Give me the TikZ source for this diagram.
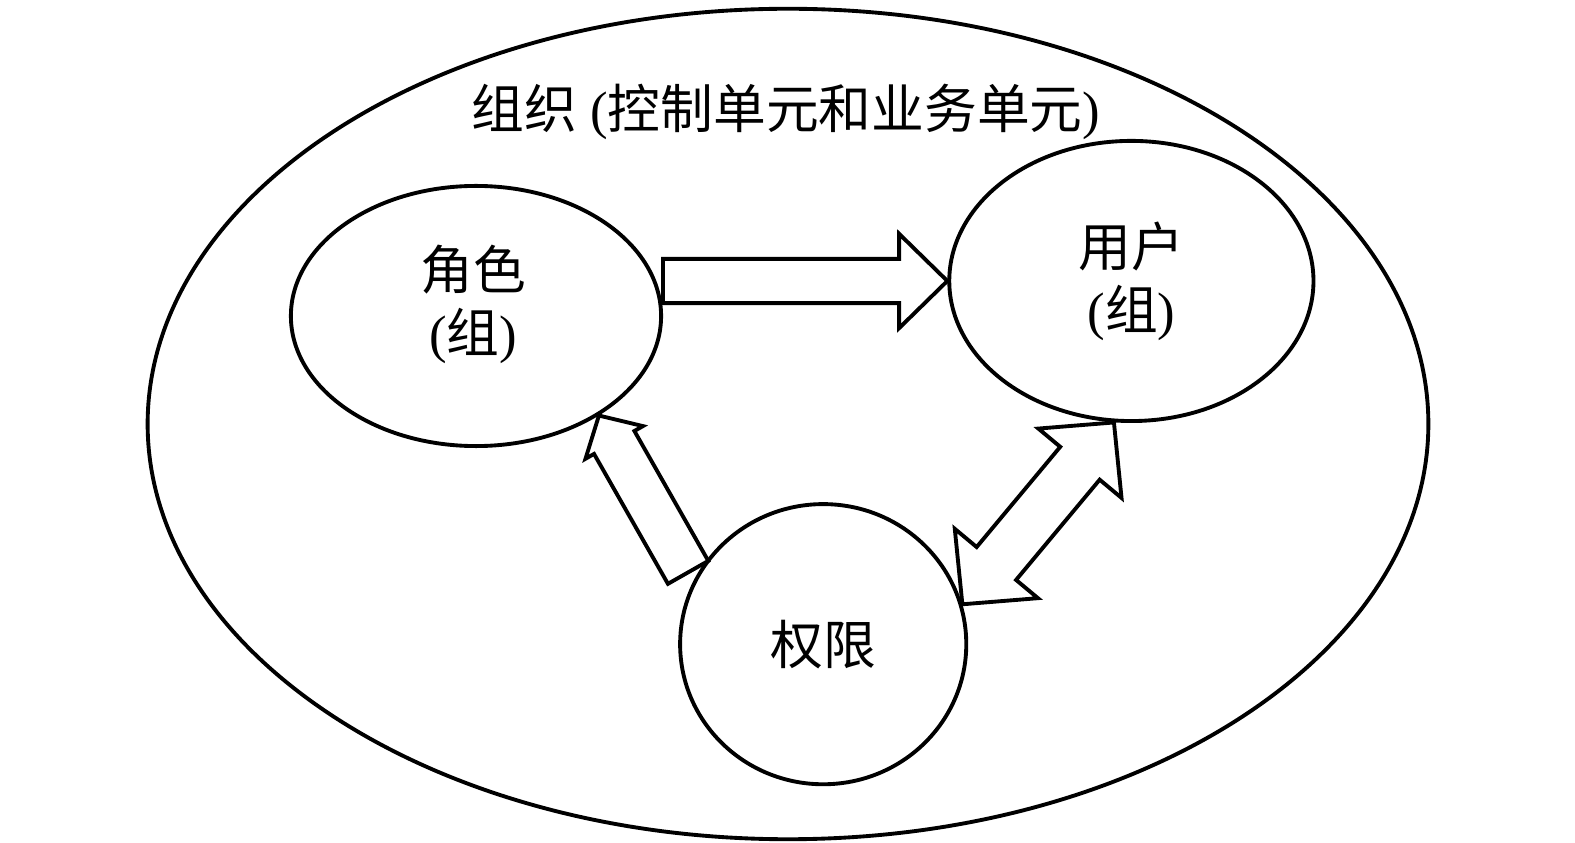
\documentclass[tikz,border=0pt]{standalone}
\usepackage{fontspec}
\setmainfont{Liberation Serif}
\newfontfamily\cjk{Noto Sans CJK SC}
\usetikzlibrary{shapes.geometric,positioning,calc}

% hollow block arrow: tail, tip, shaft half width, head half width, head length
\newcommand\fatarrow[5]{%
  \draw[fat] let \p1=($(#2)-(#1)$), \n1={atan2(\y1,\x1)}, \n2={veclen(\x1,\y1)} in
    [shift={(#1)},rotate=\n1] (0pt,#3) -- ({\n2-#5},#3) -- ({\n2-#5},#4) -- (\n2,0pt)
    -- ({\n2-#5},-#4) -- ({\n2-#5},-#3) -- (0pt,-#3) -- cycle;}
\newcommand\fatdarrow[5]{%
  \draw[fat] let \p1=($(#2)-(#1)$), \n1={atan2(\y1,\x1)}, \n2={veclen(\x1,\y1)} in
    [shift={(#1)},rotate=\n1] (#5,#3) -- ({\n2-#5},#3) -- ({\n2-#5},#4) -- (\n2,0pt)
    -- ({\n2-#5},-#4) -- ({\n2-#5},-#3) -- (#5,-#3) -- (#5,-#4) -- (0pt,0pt)
    -- (#5,#4) -- cycle;}

\begin{document}
\begin{tikzpicture}[x=0.01cm,y=-0.01cm,on grid]
  \tikzstyle{unit}=[ellipse,line width=1.1pt,draw=black,inner sep=0pt]
  \tikzstyle{fat}=[line width=1.1pt,draw=black,line join=miter]
  \tikzstyle{txt}=[align=center,font=\fontsize{15}{17.9}\selectfont]

  \useasboundingbox (0,0) rectangle (1575,843);

  \node[unit,minimum width=12.8cm,minimum height=8.3cm] (org) at (788,424) {};
  \node[txt] (orgtext) at (786,112) {{\cjk 组织} ({\cjk 控制单元和业务单元})};

  \node[unit,minimum width=3.7cm,minimum height=2.6cm] (role) at (476,316) {};
  \node[txt] (roletext) at (473,304) {{\cjk 角色}\\({\cjk 组})};
  \node[unit,txt,minimum width=3.64cm,minimum height=2.8cm] (user)
    [above right=0.35cm and 6.55cm of role] {{\cjk 用户}\\({\cjk 组})};
  \node[unit,txt,minimum width=2.86cm,minimum height=2.8cm] (perm)
    [below right=3.28cm and 3.47cm of role] {\cjk 权限};

  \coordinate (rolefoot) at (role.east |- user.west);
  \coordinate (permfoot) at ($(perm.center)!1.06!(perm.152)$);
  \fatarrow{rolefoot}{user.west}{6.3pt}{13.4pt}{13.7pt}
  \fatarrow{permfoot}{role.-39}{6.6pt}{9.4pt}{8.8pt}
  \fatdarrow{perm.16}{user.263}{7.3pt}{15.4pt}{15.1pt}
\end{tikzpicture}
\end{document}
